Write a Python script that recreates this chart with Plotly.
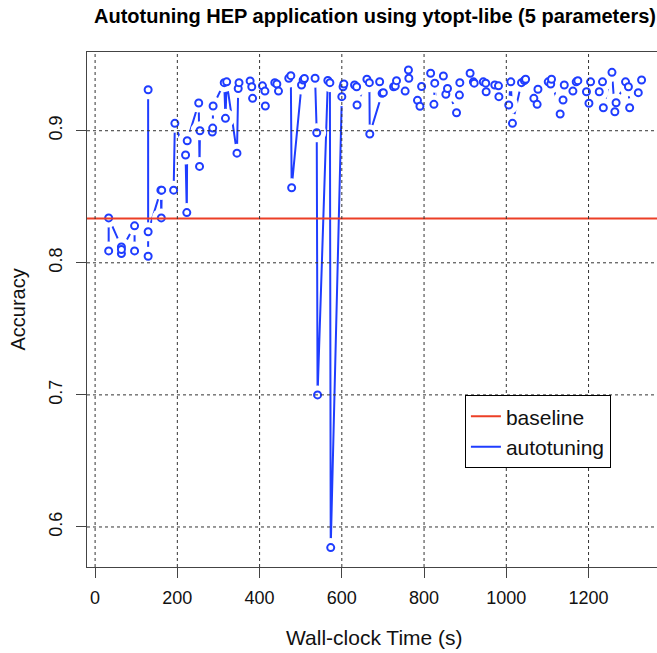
import plotly.graph_objects as go

# ---- data ----
time_s = [33, 33, 64, 64, 64, 96, 96, 129, 129, 129,
          160, 161, 162, 191, 194, 220, 223, 224,
          252, 254, 255, 285, 286, 287, 314, 317, 320,
          345, 348, 350, 377, 381, 383, 407, 413, 414,
          437, 442, 446, 471, 476, 478, 502, 506, 509,
          535, 539, 541, 566, 571, 573, 600, 603, 605,
          631, 636, 637, 661, 667, 668, 698, 692, 701,
          726, 730, 733, 754, 762, 763, 784, 790, 794,
          816, 826, 824, 847, 853, 857, 879, 886, 887,
          912, 920, 922, 944, 950, 951, 972, 981, 982,
          1006, 1011, 1015, 1037, 1044, 1047, 1067, 1075, 1077,
          1102, 1108, 1110, 1131, 1138, 1141, 1162, 1170, 1174,
          1195, 1201, 1205, 1226, 1234, 1236, 1257, 1264, 1267,
          1290, 1297, 1300, 1321, 1329]
accuracy = [0.809, 0.834, 0.812, 0.807, 0.810, 0.828, 0.809, 0.805, 0.931, 0.8235,
            0.855, 0.834, 0.855, 0.855, 0.9056, 0.8816, 0.838, 0.8924,
            0.921, 0.873, 0.900, 0.899, 0.902, 0.9187, 0.9364, 0.9094, 0.937,
            0.883, 0.932, 0.9364, 0.9377, 0.9333, 0.9245, 0.934, 0.930, 0.9187,
            0.9364, 0.9354, 0.930, 0.9397, 0.9417, 0.8568, 0.9346, 0.9384, 0.9395,
            0.9397, 0.8985, 0.700, 0.938, 0.9364, 0.5844, 0.9258, 0.9333, 0.9354,
            0.9346, 0.9333, 0.9195, 0.939, 0.9364, 0.8975, 0.9283, 0.9371, 0.9288,
            0.9333, 0.9338, 0.9379, 0.930, 0.946, 0.9397, 0.923, 0.9185, 0.9335,
            0.9435, 0.936, 0.920, 0.9414, 0.9276, 0.932, 0.9136, 0.927, 0.9364,
            0.9435, 0.937, 0.936, 0.937, 0.936, 0.9295, 0.9346, 0.934, 0.9258,
            0.9195, 0.937, 0.9056, 0.9364, 0.938, 0.939, 0.9245, 0.920, 0.9314,
            0.937, 0.9354, 0.939, 0.9127, 0.9233, 0.9346, 0.930, 0.937, 0.9379,
            0.9295, 0.9208, 0.937, 0.9295, 0.937, 0.9174, 0.9442, 0.9144, 0.9212,
            0.937, 0.9333, 0.9174, 0.9288, 0.9384]
baseline_accuracy = 0.8336

x_ticks = [0, 200, 400, 600, 800, 1000, 1200]
y_ticks = [0.6, 0.7, 0.8, 0.9]
x_range = [-19.7, 1366.5]
y_range = [0.5697, 0.9596]

BLUE = "#1f3dff"
RED = "#ec3f26"
FONT = "Liberation Sans"

fig = go.Figure()
# connecting lines
fig.add_trace(go.Scatter(x=time_s, y=accuracy, mode="lines", name="autotuning",
                         line=dict(color=BLUE, width=2), legendrank=2,
                         hoverinfo="skip"))
# white gaps around points (R type="b" look)
fig.add_trace(go.Scatter(x=time_s, y=accuracy, mode="markers", showlegend=False,
                         marker=dict(color="white", size=19, line=dict(width=0)),
                         hoverinfo="skip"))
# open circles
fig.add_trace(go.Scatter(x=time_s, y=accuracy, mode="markers", showlegend=False,
                         marker=dict(symbol="circle", color="white", size=7,
                                     line=dict(color=BLUE, width=2))))
# baseline
fig.add_trace(go.Scatter(x=x_range, y=[baseline_accuracy, baseline_accuracy],
                         mode="lines", name="baseline", legendrank=1,
                         line=dict(color=RED, width=2)))

shapes = []
for xv in x_ticks:
    shapes.append(dict(type="line", xref="x", yref="paper", x0=xv, x1=xv, y0=0, y1=1,
                       line=dict(color="#333333", width=1, dash="dot"), layer="above"))
for yv in y_ticks:
    shapes.append(dict(type="line", xref="paper", yref="y", x0=0, x1=1, y0=yv, y1=yv,
                       line=dict(color="#333333", width=1, dash="dot"), layer="above"))

fig.update_layout(
    width=657, height=653,
    margin=dict(l=87, r=0, t=52, b=86),
    paper_bgcolor="white", plot_bgcolor="white",
    font=dict(family=FONT, size=18, color="#111111"),
    title=dict(text="Autotuning HEP application using ytopt-libe (5 parameters)",
               xref="container", x=375 / 657, xanchor="center",
               yref="container", y=1 - 15.5 / 653, yanchor="middle",
               font=dict(family=FONT, size=20, color="#000000", weight="bold")),
    showlegend=True,
    legend=dict(x=0.663, y=0.3336, xanchor="left", yanchor="top",
                bgcolor="white", bordercolor="#000000", borderwidth=1,
                font=dict(family=FONT, size=21, color="#111111"),
                itemwidth=30, tracegroupgap=0),
    shapes=shapes,
    annotations=[
        dict(text="Wall-clock Time (s)", xref="paper", yref="paper",
             x=0.505, y=-0.136, xanchor="center", yanchor="middle",
             showarrow=False, font=dict(family=FONT, size=21, color="#111111")),
        dict(text="Accuracy", xref="paper", yref="paper",
             x=-0.1228, y=0.5, xanchor="center", yanchor="middle", textangle=-90,
             showarrow=False, font=dict(family=FONT, size=20, color="#111111")),
    ],
)
fig.update_xaxes(range=x_range, tickvals=x_ticks, showgrid=False, zeroline=False,
                 showline=True, linecolor="#444444", linewidth=1, mirror=True,
                 ticks="outside", ticklen=10, tickcolor="#444444",
                 ticklabelstandoff=4)
fig.update_yaxes(range=y_range, tickvals=y_ticks, showgrid=False, zeroline=False,
                 showline=True, linecolor="#444444", linewidth=1, mirror=False,
                 ticks="outside", ticklen=10, tickcolor="#444444", tickangle=-90,
                 ticklabelstandoff=7)

fig.write_html("out.html", config={"displayModeBar": False},
               post_script="document.body.style.margin='0px';")
